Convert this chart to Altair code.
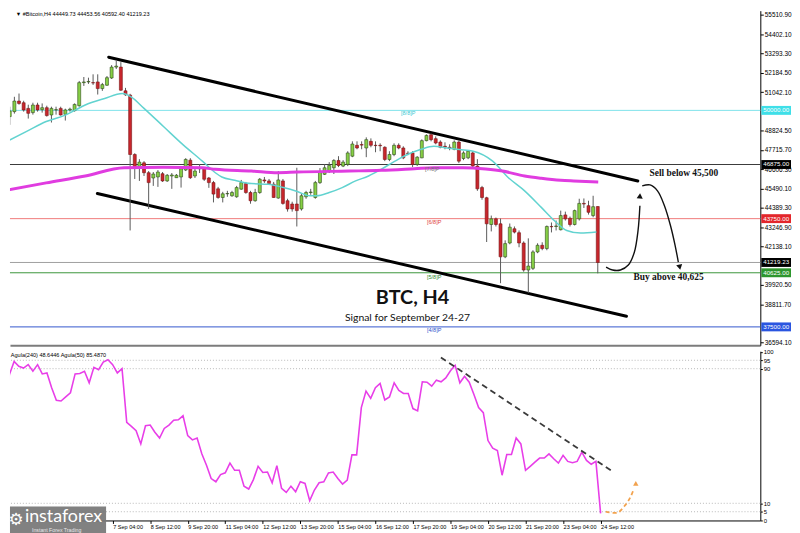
import json
import altair as alt
import pandas as pd

# ---------------- data ----------------
bars = list(range(128))  # H4 bars, bar 127 = 24 Sep 12:00
opens = [49642, 49928, 50539, 50442, 50116, 49871, 50311, 50042, 50156, 49739,
         50025, 50116, 49774, 50025, 49985, 50270, 51602, 51642, 51602, 51642,
         51259, 51453, 51871, 52499, 52499, 51128, 50882, 47453, 46744, 46973,
         46401, 46098, 46156, 46344, 45927, 46213, 46115, 46156, 46556, 47127,
         46213, 46630, 46670, 46098, 45830, 45470, 44972, 45184, 45070, 45013,
         45453, 45773, 45258, 44784, 45258, 45984, 45927, 45738, 44938, 45927,
         44784, 44595, 44595, 44310, 45013, 45258, 44972, 45830, 46310, 46458,
         46687, 47110, 46784, 46881, 47356, 47984, 48024, 47830, 48213, 47984,
         47984, 47870, 47167, 47453, 47984, 47830, 47527, 47544, 46881, 47259,
         48253, 48596, 48367, 48173, 47927, 47870, 47756, 48173, 47224, 47259,
         47544, 46784, 45544, 44955, 43412, 43738, 43452, 41544, 42344, 43166,
         42938, 42344, 40784, 40880, 41829, 42212, 42024, 43298, 43298, 43110,
         43967, 43772, 43412, 43738, 44630, 44498, 43927, 44449.73]
highs = [50213, 50785, 50973, 50556, 50328, 50442, 50442, 50402, 50270, 50213,
         50213, 50213, 50099, 50156, 50402, 51699, 51928, 51888, 52082, 52082,
         51585, 51985, 52614, 52882, 52785, 51299, 50956, 47527, 47184, 47070,
         46498, 46441, 46555, 46441, 46327, 46384, 46327, 46784, 47241, 47241,
         46727, 46899, 46727, 46156, 45927, 45584, 45299, 45355, 45355, 45641,
         45984, 45870, 45355, 45470, 46098, 46156, 46041, 45870, 46498, 46041,
         44898, 44727, 46687, 45184, 45355, 45470, 45927, 46670, 46899, 47013,
         47184, 47356, 47127, 47641, 48213, 48213, 48213, 48442, 48384, 48213,
         48098, 47927, 47641, 48098, 48098, 47927, 47641, 47641, 47356, 48327,
         48613, 48670, 48499, 48270, 48156, 48041, 48270, 48270, 47641, 47699,
         47641, 47184, 45641, 45013, 43927, 43813, 43756, 42498, 43470, 43298,
         43069, 42441, 42612, 41926, 42327, 42384, 43355, 43527, 43641, 44213,
         44155, 43870, 44270, 44898, 44915, 44784, 45070, 44453.56]
lows = [49167, 49814, 50328, 49928, 49528, 49756, 49928, 49871, 49642, 49299,
        49756, 49699, 49413, 49928, 49928, 50213, 51413, 51528, 51471, 50916,
        51128, 51413, 51814, 52385, 51128, 50842, 43069, 46041, 45927, 46213,
        44310, 45641, 45584, 45870, 45870, 45470, 46098, 45544, 46498, 46041,
        46098, 46384, 45927, 45527, 44687, 44898, 44687, 45013, 45013, 44955,
        45413, 45184, 44612, 44727, 45184, 45813, 45698, 44955, 44898, 44555,
        44155, 44155, 43298, 44213, 44898, 45127, 44898, 45756, 46270, 46384,
        46327, 46727, 46727, 46784, 47299, 47756, 47756, 47299, 47870, 47584,
        47641, 47070, 47070, 47356, 47756, 47184, 47413, 46727, 46784, 47241,
        48213, 48213, 48041, 47813, 47756, 47699, 47699, 46956, 47127, 47184,
        46727, 45355, 44841, 42401, 43013, 43298, 40023, 41469, 42269, 42898,
        42098, 40686, 39452, 40784, 41755, 41926, 41926, 42955, 43069, 43069,
        43641, 43298, 43355, 43641, 44367, 43984, 43830, 40592.40]
closes = [49968, 50539, 50402, 50025, 49831, 50311, 50025, 50156, 49699, 50116,
          50042, 49739, 50025, 50071, 50345, 51602, 51642, 51671, 51585, 51259,
          51488, 51888, 52499, 52556, 51168, 50899, 47453, 46687, 47013, 46401,
          45830, 46327, 46441, 45927, 46253, 46270, 46253, 46630, 47167, 46115,
          46498, 46653, 46024, 45830, 45167, 44972, 45184, 45201, 45258, 45544,
          45830, 45258, 44784, 45258, 46024, 45927, 45773, 44972, 45984, 44630,
          44310, 44310, 44213, 45070, 45258, 45287, 45830, 46458, 46687, 46824,
          47110, 46824, 47013, 47544, 48059, 47830, 47996, 48310, 47984, 47967,
          47956, 47167, 47453, 47984, 47830, 47259, 47510, 46881, 47299, 48253,
          48556, 48310, 48116, 47870, 47887, 47813, 48173, 47070, 47544, 47641,
          46784, 45470, 44972, 43452, 43738, 43412, 41544, 42309, 43258, 42972,
          42344, 40784, 41012, 41829, 42212, 42024, 43298, 43281, 43327, 43927,
          43738, 43412, 44213, 44630, 44595, 44116, 44441, 41219.23]

ma_fast_bar = [-0.6, 3.65, 7.87, 12.09, 14.2, 16.3, 20.5, 24.3, 26.2, 29.0, 33.2,
               37.4, 41.6, 44.4, 45.8, 48.6, 52.2, 55.8, 59.1, 62.1, 64.8, 66.3,
               69.0, 71.8, 74.7, 77.5, 80.2, 83.2, 85.9, 88.7, 91.6, 94.4, 97.1,
               100.1, 104.3, 107.7, 111.2, 114.8, 117.6, 120.3, 123.3, 126.7]
ma_fast_price = [48213, 48784, 49356, 49739, 50025, 50311, 50687, 50973, 50785,
                 50116, 49070, 48024, 47070, 46401, 46156, 45967, 45773, 45738,
                 45544, 45316, 45070, 45070, 45258, 45544, 45927, 46213, 46596,
                 47070, 47453, 47738, 47927, 47830, 47738, 47641, 47070, 46115,
                 45355, 44401, 43641, 43069, 42915, 42973]
ma_slow_bar = [-0.6, 7.87, 16.3, 24.7, 33.2, 41.6, 44.4, 52.2, 57.9, 62.1, 73.3,
               80.2, 87.4, 91.6, 97.9, 102.8, 106.4, 111.2, 114.8, 119.0, 121.8,
               127.1]
ma_slow_price = [45395, 45813, 46213, 46687, 46716, 46687, 46596, 46498, 46401,
                 46441, 46498, 46538, 46630, 46687, 46687, 46613, 46498, 46213,
                 46081, 45967, 45927, 45870]

osc_bar = list(range(-1, 128))
osc_value = [72.8, 69.8, 86.5, 94.3, 91.4, 90.4, 92.4, 88.5, 92.4, 86.9, 87.5,
             78.7, 71.2, 70.8, 73.2, 75.7, 86.9, 87.1, 88.5, 81.6, 90.8, 89.4,
             93.9, 95.3, 92.4, 87.5, 90.0, 58.1, 55.7, 53.2, 45.3, 56.1, 56.5,
             52.2, 48.8, 54.5, 56.5, 59.4, 59.6, 62.0, 50.2, 47.7, 48.8, 39.4,
             32.6, 24.7, 22.8, 27.1, 28.1, 33.9, 29.6, 29.6, 20.2, 18.5, 24.1,
             32.0, 28.3, 28.6, 22.2, 32.4, 18.9, 16.5, 20.2, 16.9, 22.8, 21.8,
             11.6, 17.9, 22.2, 22.8, 28.1, 28.6, 24.7, 21.4, 23.8, 38.8, 38.8,
             66.9, 76.7, 72.4, 78.7, 81.2, 71.4, 73.2, 81.6, 77.1, 75.3, 75.3,
             66.3, 64.9, 82.2, 82.0, 79.6, 83.2, 82.2, 84.5, 88.8, 92.0, 81.6,
             85.5, 82.0, 74.7, 66.9, 63.9, 47.3, 42.8, 41.4, 26.7, 39.0, 39.0,
             48.8, 45.3, 29.6, 32.0, 34.5, 36.9, 36.9, 39.4, 36.5, 33.9, 38.5,
             34.9, 34.1, 34.9, 40.4, 35.5, 33.2, 34.9, 4.0]
osc_levels = [95, 90, 10, 5]

level_price = [50000, 46875, 43750, 41219.23, 40625, 37500]
level_line_color = ["#7fe3ea", "#3a3a3a", "#f07a7a", "#a0a0a0", "#3c963c", "#3355cc"]
level_box_color = ["#3fdfe8", "#000000", "#e3262b", "#000000", "#2e962e", "#2a55e0"]
level_box_text = ["50000.00", "46875.00", "43750.00", "41219.23", "40625.00", "37500.00"]

murrey_text = ["[8/8]P", "[7/8]P", "[6/8]P", "[5/8]P", "[4/8]P"]
murrey_bar = [84.5, 89.7, 90.1, 90.1, 90.1]
murrey_price = [49842, 46613, 43555, 40383, 37298]
murrey_color = ["#3cc8d2", "#707070", "#e04040", "#2e8b2e", "#3355cc"]

price_ticks = [55510.90, 54402.10, 53293.30, 52184.50, 51042.10, 48824.50,
               47715.70, 46606.30, 45490.10, 44389.30, 43246.90, 42138.10,
               39920.50, 38811.70, 36594.10]
time_tick_bar = [23, 31, 39, 47, 55, 63, 71, 79, 87, 95, 103, 111, 119, 127]
time_tick_label = ["7 Sep 04:00", "8 Sep 12:00",
                   "9 Sep 20:00", "11 Sep 04:00", "12 Sep 12:00", "13 Sep 20:00",
                   "15 Sep 04:00", "16 Sep 12:00", "17 Sep 20:00", "19 Sep 04:00",
                   "20 Sep 12:00", "21 Sep 20:00", "23 Sep 04:00", "24 Sep 12:00"]

channel_id = ["upper", "upper", "lower", "lower"]
channel_bar = [21.37, 135.65, 18.92, 133.2]
channel_price = [53071, 45927, 45201, 38115]

arrow_up_bar = [128.8, 130.2, 131.9, 133.6, 134.9, 135.7, 136.1]
arrow_up_price = [40955, 40783, 40783, 41069, 41812, 43069, 44498]
arrow_dn_bar = [136.6, 138.3, 139.9, 141.4, 142.7, 143.7, 144.4]
arrow_dn_price = [45641, 45698, 45355, 44498, 43355, 42212, 41241]
head_bar = [136.1, 144.7]
head_price = [45070, 40950]
head_angle = [4, 168]

trend_bar = [92.96, 129.2]
trend_value = [96.7, 29.6]
orange_bar = [128.1, 130.6, 132.3, 133.4, 134.1]
orange_value = [5.1, 4.5, 9.1, 13.9, 18.8]
orange_head = [134.5, 21.8]

# ---------------- layout ----------------
W, H1, H2 = 758, 338, 171
XDOM = [1.118, 161.04]
PDOM = [36440, 55757]
VDOM = [-0.2, 100.4]
LF = "Liberation Sans"

xs = alt.Scale(domain=XDOM, nice=False, zero=False)
ps = alt.Scale(domain=PDOM, nice=False, zero=False)
vs = alt.Scale(domain=VDOM, nice=False, zero=False)

ax_top_x = alt.Axis(labels=False, ticks=False, grid=False, title=None,
                    domainColor="#7c7c7c", domainWidth=2)
ax_top_y = alt.Axis(orient="right", values=price_ticks, format=".2f", grid=False,
                    title=None, tickSize=3, tickColor="#000", domainColor="#000",
                    labelFont=LF, labelFontSize=6.5, labelColor="#000",
                    labelPadding=1, labelOverlap=False, labelFlush=False)
label_expr = "%s[round((datum.value - 23) / 8)]" % json.dumps(time_tick_label)
ax_bot_x = alt.Axis(values=time_tick_bar, labelExpr=label_expr, grid=False,
                    title=None, tickSize=3, tickColor="#000", domainColor="#000",
                    labelAlign="left", labelFont=LF, labelFontSize=5.6,
                    labelColor="#000", labelPadding=1, labelOverlap=False,
                    labelFlush=False)
ax_bot_y = alt.Axis(orient="right", values=[0, 5, 10, 90, 95, 100], format="d",
                    grid=False, title=None, tickSize=2, tickColor="#000",
                    domainColor="#000", labelFont=LF, labelFontSize=6,
                    labelColor="#000", labelPadding=1, labelOverlap=False,
                    labelFlush=False)


def XT(f):
    return alt.X(f, type="quantitative", scale=xs, axis=ax_top_x)


def YT(f):
    return alt.Y(f, type="quantitative", scale=ps, axis=ax_top_y)


def XB(f):
    return alt.X(f, type="quantitative", scale=xs, axis=ax_bot_x)


def YB(f):
    return alt.Y(f, type="quantitative", scale=vs, axis=ax_bot_y)


cdf = pd.DataFrame({"bar": bars, "open": opens, "high": highs, "low": lows, "close": closes})
up = cdf["close"] >= cdf["open"]
cdf["fill"] = ["#86cf45" if u else "#c8262c" for u in up]
cdf["stroke"] = ["#2d4a1a" if u else "#7a1416" for u in up]

lv = pd.DataFrame({"price": level_price, "col": level_line_color,
                   "box": level_box_color, "label": level_box_text})
mur = pd.DataFrame({"bar": murrey_bar, "price": murrey_price,
                    "t": murrey_text, "col": murrey_color})
ch = pd.DataFrame({"id": channel_id, "bar": channel_bar, "price": channel_price})
ma1 = pd.DataFrame({"bar": ma_fast_bar, "price": ma_fast_price})
ma2 = pd.DataFrame({"bar": ma_slow_bar, "price": ma_slow_price})
a1 = pd.DataFrame({"bar": arrow_up_bar, "price": arrow_up_price})
a2 = pd.DataFrame({"bar": arrow_dn_bar, "price": arrow_dn_price})
hd = pd.DataFrame({"bar": head_bar, "price": head_price, "ang": head_angle})

levels = alt.Chart(lv).mark_rule(strokeWidth=1).encode(
    y=YT("price"), color=alt.Color("col:N", scale=None))
channel = alt.Chart(ch).mark_line(color="#000", strokeWidth=3, strokeCap="round", clip=True).encode(
    x=XT("bar"), y=YT("price"), detail="id:N")
wick = alt.Chart(cdf).mark_rule(color="#5a5a5a", strokeWidth=1, clip=True).encode(
    x=XT("bar"), y=YT("low"), y2=alt.Y2("high"))
body = alt.Chart(cdf).mark_bar(size=3, strokeWidth=0.6, clip=True).encode(
    x=XT("bar"), y=YT("open"), y2=alt.Y2("close"),
    fill=alt.Fill("fill:N", scale=None), stroke=alt.Stroke("stroke:N", scale=None))
fast = alt.Chart(ma1).mark_line(color="#62d3d0", strokeWidth=1.5, interpolate="monotone", clip=True).encode(
    x=XT("bar"), y=YT("price"))
slow = alt.Chart(ma2).mark_line(color="#e03ce0", strokeWidth=3, interpolate="monotone", clip=True).encode(
    x=XT("bar"), y=YT("price"))
mtext = alt.Chart(mur).mark_text(align="left", baseline="middle", font=LF, fontSize=5.6).encode(
    x=XT("bar"), y=YT("price"), text="t:N", color=alt.Color("col:N", scale=None))
arr1 = alt.Chart(a1).mark_line(color="#111", strokeWidth=1.4, interpolate="catmull-rom").encode(
    x=XT("bar"), y=YT("price"))
arr2 = alt.Chart(a2).mark_line(color="#111", strokeWidth=1.4, interpolate="catmull-rom").encode(
    x=XT("bar"), y=YT("price"))
heads = alt.Chart(hd).mark_point(shape="triangle-up", filled=True, size=38, color="#111", opacity=1).encode(
    x=XT("bar"), y=YT("price"), angle=alt.Angle("ang:Q", scale=None))

ann = pd.DataFrame({"bar": [87.0], "price": [39183], "t": ["BTC, H4"]})
title_t = alt.Chart(ann).mark_text(font="Lato", fontWeight="bold", fontSize=20, color="#111").encode(
    x=XT("bar"), y=YT("price"), text="t:N")
sub = pd.DataFrame({"bar": [85.9], "price": [38040], "t": ["Signal for September 24-27"]})
sub_t = alt.Chart(sub).mark_text(font="Lato", fontSize=10.5, color="#111").encode(
    x=XT("bar"), y=YT("price"), text="t:N")
sig = pd.DataFrame({"bar": [145.6, 142.3], "price": [46401, 40366],
                    "t": ["Sell below 45,500", "Buy above 40,625"]})
sig_t = alt.Chart(sig).mark_text(font="Liberation Serif", fontWeight="bold", fontSize=9.5, color="#111").encode(
    x=XT("bar"), y=YT("price"), text="t:N")
hdr = pd.DataFrame({"bar": [1.3], "price": [55560],
                    "t": ["\u25bc #Bitcoin,H4  44449.73 44453.56 40592.40 41219.23"]})
hdr_t = alt.Chart(hdr).mark_text(align="left", baseline="middle", font=LF, fontSize=5.6, color="#000").encode(
    x=XT("bar"), y=YT("price"), text="t:N")

BOX = "M-1,-0.3L1,-0.3L1,0.3L-1,0.3Z"
boxes = alt.Chart(lv).mark_point(shape=BOX, size=900, filled=True, opacity=1, strokeWidth=0).encode(
    x=alt.value(W + 16), y=YT("price"), color=alt.Color("box:N", scale=None))
box_t = alt.Chart(lv).mark_text(font=LF, fontSize=6.3, color="#fff").encode(
    x=alt.value(W + 16), y=YT("price"), text="label:N")

top = alt.layer(levels, channel, wick, body, fast, slow, mtext, arr1, arr2, heads,
                title_t, sub_t, sig_t, hdr_t, boxes, box_t).properties(width=W, height=H1)

# ---------------- lower panel ----------------
od = pd.DataFrame({"bar": osc_bar, "v": osc_value})
ol = pd.DataFrame({"v": osc_levels})
td = pd.DataFrame({"bar": trend_bar, "v": trend_value})
orr = pd.DataFrame({"bar": orange_bar, "v": orange_value})
orh = pd.DataFrame({"bar": [orange_head[0]], "v": [orange_head[1]]})

olev = alt.Chart(ol).mark_rule(color="#b8b8b8", strokeWidth=1, strokeDash=[1, 2]).encode(y=YB("v"))
oline = alt.Chart(od).mark_line(color="#e83ee8", strokeWidth=1.6, clip=True).encode(x=XB("bar"), y=YB("v"))
tline = alt.Chart(td).mark_line(color="#3a3a3a", strokeWidth=1.8, strokeDash=[6, 4]).encode(x=XB("bar"), y=YB("v"))
oarr = alt.Chart(orr).mark_line(color="#f2a24e", strokeWidth=1.8, strokeDash=[4, 3], interpolate="catmull-rom").encode(
    x=XB("bar"), y=YB("v"))
ohead = alt.Chart(orh).mark_point(shape="triangle-up", filled=True, size=30, color="#f2a24e", opacity=1).encode(
    x=XB("bar"), y=YB("v"))
leg = pd.DataFrame({"bar": [1.3], "v": [98.1], "t": ["Agula(240) 48.6446  Agula(50) 85.4870"]})
leg_t = alt.Chart(leg).mark_text(align="left", baseline="middle", font=LF, fontSize=5.6, color="#000").encode(
    x=XB("bar"), y=YB("v"), text="t:N")

logo = pd.DataFrame({"x0": [1.118], "x1": [21.6], "y0": [8.06], "y1": [-8.0]})
logo_r = alt.Chart(logo).mark_rect(color="#777777", opacity=0.93).encode(
    x=XB("x0"), x2=alt.X2("x1"), y=YB("y0"), y2=alt.Y2("y1"))
lt = pd.DataFrame({"bar": [4.3], "v": [1.8], "t": ["instaforex"]})
logo_t = alt.Chart(lt).mark_text(align="left", baseline="middle", font="Lato", fontSize=18, color="#ffffff").encode(
    x=XB("bar"), y=YB("v"), text="t:N")
ls = pd.DataFrame({"bar": [5.8], "v": [-5.9], "t": ["Instant Forex Trading"]})
logo_s = alt.Chart(ls).mark_text(align="left", baseline="middle", font=LF, fontSize=5.3, color="#e8e8e8").encode(
    x=XB("bar"), y=YB("v"), text="t:N")
lg = pd.DataFrame({"bar": [2.4], "v": [0.0], "t": ["\u2699"]})
logo_g = alt.Chart(lg).mark_text(baseline="middle", font="DejaVu Sans", fontSize=17, color="#ffffff").encode(
    x=XB("bar"), y=YB("v"), text="t:N")

bottom = alt.layer(olev, oline, tline, oarr, ohead, leg_t, logo_r, logo_t, logo_s, logo_g).properties(
    width=W, height=H2)

chart = alt.vconcat(top, bottom, spacing=2).resolve_scale(
    x="independent", y="independent").properties(padding=0).configure_view(strokeWidth=0)

chart.save("out.html", embed_options={"renderer": "svg", "actions": False})
